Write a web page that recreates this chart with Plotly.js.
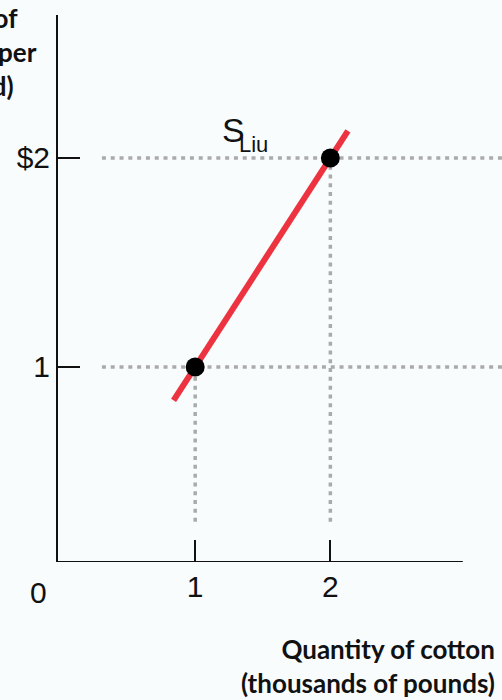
<!DOCTYPE html>
<html>
<head>
<meta charset="utf-8">
<script src="https://cdn.plot.ly/plotly-3.0.1.min.js"></script>
<style>
  html, body { margin: 0; padding: 0; background: #f8fcfd; }
  #chart { width: 502px; height: 700px; }
</style>
</head>
<body>
<div id="chart"></div>
<script>
// Supply curve for Liu's cotton: price per pound vs. quantity (thousands of pounds)
const xTickVals = [1, 2];
const xTickText = ['1', '2'];
const yTickVals = [1, 2];
const yTickText = ['1', '$2'];

// Supply line S_Liu (price = quantity along this segment)
const supplyQty = [0.84, 2.13];
const supplyPrice = [0.84, 2.13];

// Highlighted points on the curve
const pointQty = [1, 2];
const pointPrice = [1, 2];

// Extent of the dotted guide lines
const guideStartQty = 0.31;
const guideStartPrice = 0.26;

// Axis ranges
const xRange = [-0.015, 3.27];
const yRange = [0.067, 2.684];
const xAxisEnd = 2.98;

const guideStyle = { color: '#aaaaaa', width: 3.5, dash: '4px,4.8px' };

const traces = [];
// horizontal guides from the price axis side to the right edge
pointPrice.forEach(p => {
  traces.push({
    x: [guideStartQty, xRange[1]], y: [p, p],
    mode: 'lines', line: guideStyle, showlegend: false, hoverinfo: 'skip'
  });
});
// vertical guides from each point down toward the quantity axis
pointQty.forEach((q, i) => {
  traces.push({
    x: [q, q], y: [guideStartPrice, pointPrice[i]],
    mode: 'lines', line: guideStyle, showlegend: false, hoverinfo: 'skip'
  });
});
// supply curve
traces.push({
  x: supplyQty, y: supplyPrice,
  mode: 'lines', line: { color: '#ee3340', width: 6 },
  showlegend: false, hoverinfo: 'skip'
});
// points
traces.push({
  x: pointQty, y: pointPrice,
  mode: 'markers', marker: { color: '#000000', size: 19 },
  showlegend: false, hoverinfo: 'skip', cliponaxis: false
});

const tickFont = { family: 'Liberation Sans, Arial, sans-serif', size: 30, color: '#111111' };
const titleFont = { family: 'Lato, Open Sans, sans-serif', size: 26, color: '#111111', weight: 'bold' };

const layout = {
  width: 502, height: 700,
  margin: { l: 58, r: 0, t: 15, b: 138 },
  paper_bgcolor: '#f8fcfd',
  plot_bgcolor: '#f8fcfd',
  hovermode: false,
  xaxis: {
    range: xRange, showgrid: false, zeroline: false, showline: false,
    tickmode: 'array', tickvals: xTickVals, ticktext: xTickText,
    ticks: 'inside', ticklen: 22, tickwidth: 2, tickcolor: '#111111',
    tickfont: tickFont, ticklabelstandoff: 4, fixedrange: true
  },
  yaxis: {
    range: yRange, showgrid: false, zeroline: false,
    showline: true, linecolor: '#111111', linewidth: 2,
    tickmode: 'array', tickvals: yTickVals, ticktext: yTickText,
    ticks: 'inside', ticklen: 22, tickwidth: 2, tickcolor: '#111111',
    tickfont: tickFont, fixedrange: true
  },
  shapes: [
    { type: 'line', xref: 'x', yref: 'y', x0: xRange[0], x1: xAxisEnd, y0: yRange[0], y1: yRange[0],
      line: { color: '#111111', width: 2 } }
  ],
  annotations: [
    { text: '0', xref: 'x', x: 0, xshift: -22, yref: 'paper', y: 0, yshift: -30,
      xanchor: 'center', yanchor: 'middle', showarrow: false, font: tickFont },
    { text: 'S', xref: 'x', x: 1.28, yref: 'y', y: 2.134, xanchor: 'center', yanchor: 'middle',
      showarrow: false, font: { family: 'Liberation Sans, Arial, sans-serif', size: 34, color: '#111111' } },
    { text: 'Liu', xref: 'x', x: 1.43, yref: 'y', y: 2.065, xanchor: 'center', yanchor: 'middle',
      showarrow: false, font: { family: 'Liberation Sans, Arial, sans-serif', size: 22, color: '#111111' } },
    { text: 'Price of<br>cotton (per<br>pound)', xref: 'paper', x: 0, xshift: -85,
      yref: 'paper', y: 1, yshift: 15, xanchor: 'center', yanchor: 'top', align: 'center',
      showarrow: false, font: titleFont },
    { text: 'Quantity of cotton<br>(thousands of pounds)', xref: 'paper', x: 1, xshift: -5,
      yref: 'paper', y: 0, yshift: -69, xanchor: 'right', yanchor: 'top', align: 'right',
      showarrow: false, font: titleFont }
  ]
};

Plotly.newPlot('chart', traces, layout, { staticPlot: true, displayModeBar: false });
</script>
</body>
</html>
